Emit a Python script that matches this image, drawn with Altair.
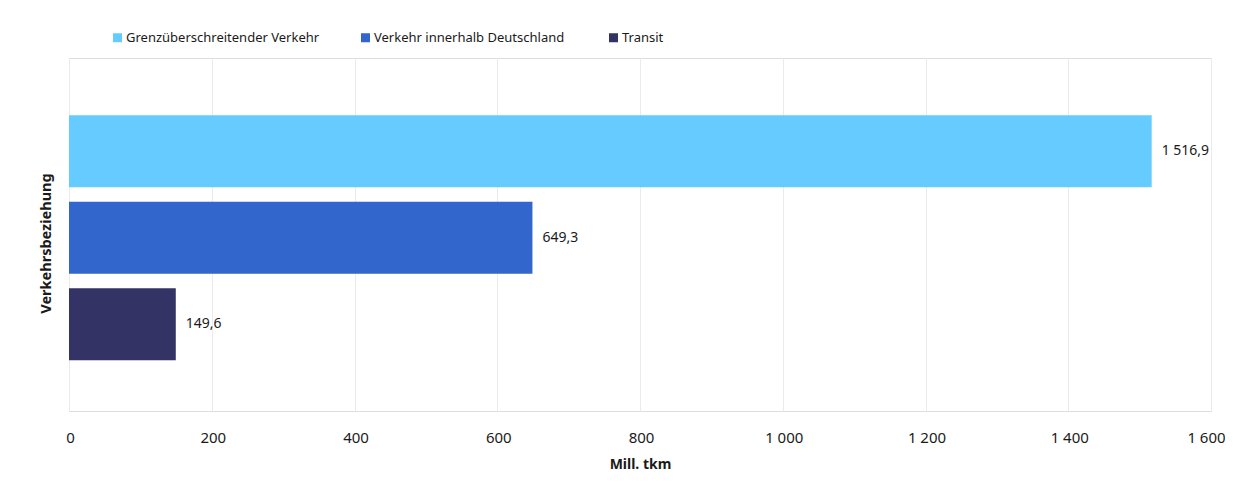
import altair as alt
import pandas as pd

categories = ["Grenzüberschreitender Verkehr", "Verkehr innerhalb Deutschland", "Transit"]
values = [1516.9, 649.3, 149.6]
colors = ["#66CCFF", "#3366CC", "#333366"]
x_ticks = [0, 200, 400, 600, 800, 1000, 1200, 1400, 1600]

df = pd.DataFrame({"cat": categories, "val": values})

FONT = "Noto Sans"

base = alt.Chart(df).encode(
    y=alt.Y(
        "cat:N",
        sort=categories,
        scale=alt.Scale(paddingInner=0.17, paddingOuter=0.625, align=0.53),
        axis=alt.Axis(
            title="Verkehrsbeziehung", labels=False, ticks=False, domain=False,
            titleX=-16, titleY=185, titleAngle=-90, titleBaseline="bottom",
            titleFontSize=14.5, titleFontWeight="bold", titleColor="#1a1a1a",
            titleFont=FONT,
        ),
    ),
)

bars = base.mark_bar().encode(
    x=alt.X(
        "val:Q",
        scale=alt.Scale(domain=[0, 1600], nice=False),
        axis=alt.Axis(
            title="Mill. tkm", values=x_ticks, format=",d", ticks=False, domain=False,
            grid=True, gridColor="#ebebeb", gridWidth=1,
            labelFontSize=15, labelColor="#1a1a1a", labelPadding=19, labelFont=FONT,
            labelFlush=False,
            labelOffset={"condition": {"test": "datum.value == 1600", "value": -5}, "value": 1},
            titleFontSize=14, titleFontWeight="bold", titleColor="#1a1a1a",
            titlePadding=12, titleFont=FONT,
        ),
    ),
    color=alt.Color(
        "cat:N",
        sort=categories,
        scale=alt.Scale(domain=categories, range=colors),
        legend=alt.Legend(
            title=None, orient="none", legendX=42, legendY=-27, direction="horizontal",
            columns=3, symbolType="square", symbolSize=81, symbolStrokeWidth=0,
            labelFontSize=13, labelColor="#1a1a1a", labelFont=FONT, labelOffset=2,
            columnPadding=39, gridAlign="all", labelLimit=400,
        ),
    ),
)

labels = base.mark_text(align="left", baseline="middle", dx=10, fontSize=14,
                        color="#1a1a1a", font=FONT).encode(
    x="val:Q",
    text=alt.Text("val:Q", format=",.1f"),
)

chart = (bars + labels).properties(
    width=1142, height=353,
    autosize=alt.AutoSizeParams(type="none"),
    padding={"left": 61, "top": 50, "right": 14, "bottom": 79},
    background="white",
).configure_view(
    stroke="#d4d4d4", strokeWidth=2,
).configure(
    locale={"number": {"decimal": ",", "thousands": " ", "grouping": [3], "currency": ["", " €"]}},
)

chart.save("out.html", embed_options={"renderer": "svg", "actions": False})
